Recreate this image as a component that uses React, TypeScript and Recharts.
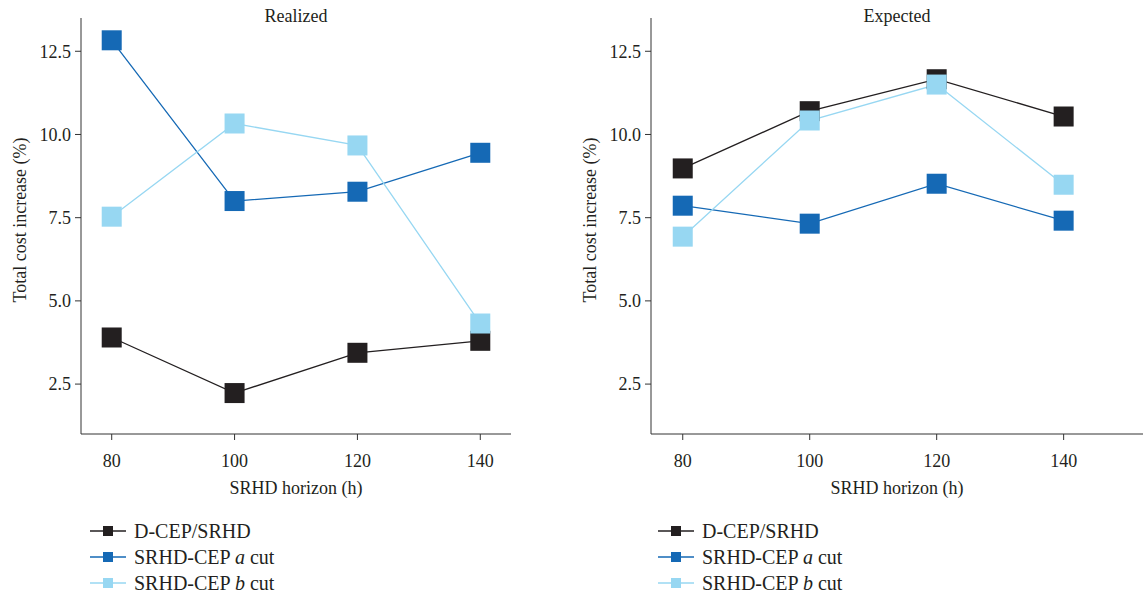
import React from "react"
import { LineChart, Line, XAxis, YAxis, Label } from "recharts"

const horizons = [80, 100, 120, 140]
const yTicks = [2.5, 5, 7.5, 10, 12.5]

const realizedDcep = [3.9, 2.23, 3.44, 3.8]
const realizedACut = [12.83, 8.0, 8.28, 9.45]
const realizedBCut = [7.53, 10.33, 9.67, 4.32]

const expectedDcep = [8.98, 10.7, 11.66, 10.54]
const expectedACut = [7.86, 7.32, 8.52, 7.41]
const expectedBCut = [6.93, 10.42, 11.5, 8.49]

const seriesNames = ["D-CEP/SRHD", "SRHD-CEP a cut", "SRHD-CEP b cut"]
const seriesColors = ["#231f20", "#1569b5", "#97d7f2"]

const FONT = "Liberation Serif"
const FS = 18
const TEXT = "#231f20"

function buildRows(d: number[], a: number[], b: number[]) {
  return horizons.map((h, i) => ({ h, d: d[i], a: a[i], b: b[i] }))
}

const realizedRows = buildRows(realizedDcep, realizedACut, realizedBCut)
const expectedRows = buildRows(expectedDcep, expectedACut, expectedBCut)

const SquareDot = (color: string) => (props: any) => {
  const { cx, cy } = props
  if (cx == null || cy == null) return null
  return <rect x={cx - 10} y={cy - 10} width={20} height={20} fill={color} />
}

function YLabel(props: any) {
  const { viewBox } = props
  const cy = viewBox.y + viewBox.height / 2 - 6
  return (
    <text
      x={26}
      y={cy}
      transform={`rotate(-90, 26, ${cy})`}
      textAnchor="middle"
      style={{ fontFamily: FONT, fontSize: FS, fill: TEXT }}
    >
      Total cost increase (%)
    </text>
  )
}

function Panel({
  title,
  rows,
  width,
  marginRight,
  xMax,
}: {
  title: string
  rows: { h: number; d: number; a: number; b: number }[]
  width: number
  marginRight: number
  xMax: number
}) {
  const tick = { fontFamily: FONT, fontSize: FS, fill: TEXT }
  const keys = ["d", "a", "b"]
  return (
    <LineChart
      width={width}
      height={500}
      data={rows}
      margin={{ top: 18, right: marginRight, bottom: 4, left: 0 }}
      style={{ fontFamily: FONT }}
    >
      <text
        x={81 + (width - 81 - marginRight) / 2}
        y={22}
        textAnchor="middle"
        style={{ fontFamily: FONT, fontSize: FS, fill: TEXT }}
      >
        {title}
      </text>
      <XAxis
        dataKey="h"
        type="number"
        domain={[75, xMax]}
        ticks={horizons}
        allowDataOverflow
        height={62}
        tick={tick}
        tickSize={6}
        tickMargin={14}
        stroke="#333"
        tickLine={{ stroke: "#333" }}
      >
        <Label
          value="SRHD horizon (h)"
          position="insideBottom"
          offset={2}
          style={{ fontFamily: FONT, fontSize: FS, fill: TEXT }}
        />
      </XAxis>
      <YAxis
        type="number"
        domain={[1, 13.5]}
        ticks={yTicks}
        width={81}
        tick={tick}
        tickSize={6}
        tickMargin={4}
        tickFormatter={(v: number) => v.toFixed(1)}
        stroke="#333"
        tickLine={{ stroke: "#333" }}
      >
        <Label content={<YLabel />} />
      </YAxis>
      {keys.map((k, i) => (
        <Line
          key={k}
          dataKey={k}
          name={seriesNames[i]}
          stroke={seriesColors[i]}
          strokeWidth={1.3}
          dot={SquareDot(seriesColors[i])}
          activeDot={false}
          isAnimationActive={false}
        />
      ))}
    </LineChart>
  )
}

function LegendBlock({ left }: { left: number }) {
  return (
    <div style={{ position: "absolute", left, top: 518, fontFamily: FONT, fontSize: 20, color: TEXT }}>
      {seriesNames.map((name, i) => {
        const parts = name.split(" ")
        return (
          <div key={name} style={{ display: "flex", alignItems: "center", height: 26 }}>
            <svg width={40} height={14} style={{ marginRight: 6 }}>
              <line x1={2} y1={7} x2={38} y2={7} stroke={seriesColors[i]} strokeWidth={1.5} />
              <rect x={15} y={2} width={10} height={10} fill={seriesColors[i]} />
            </svg>
            {parts.length === 3 ? (
              <span>
                {parts[0]} <i>{parts[1]}</i> {parts[2]}
              </span>
            ) : (
              <span>{name}</span>
            )}
          </div>
        )
      })}
    </div>
  )
}

export default function App() {
  return (
    <div style={{ position: "absolute", left: 0, top: 0, width: 1143, height: 597, background: "#fff", overflow: "hidden" }}>
      <div style={{ position: "absolute", left: 0, top: 0 }}>
        <Panel title="Realized" rows={realizedRows} width={570} marginRight={59} xMax={145} />
      </div>
      <div style={{ position: "absolute", left: 570, top: 0 }}>
        <Panel title="Expected" rows={expectedRows} width={573} marginRight={0} xMax={152.5} />
      </div>
      <LegendBlock left={88} />
      <LegendBlock left={656} />
    </div>
  )
}
